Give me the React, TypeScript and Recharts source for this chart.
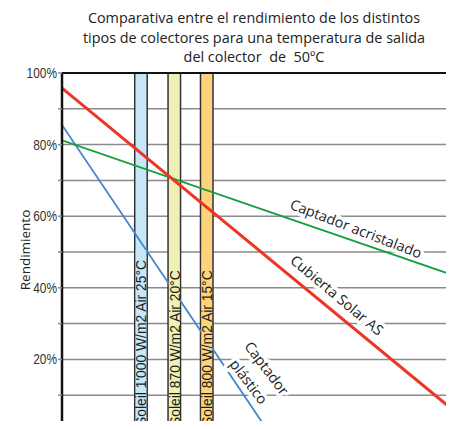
import React from 'react';
import {
  ComposedChart,
  Line,
  XAxis,
  YAxis,
  CartesianGrid,
  ReferenceArea,
  ReferenceLine,
  ReferenceDot,
} from 'recharts';

// x = (T salida - T aire) / irradiancia
const xDomain = [0.0025, 0.1125];
const yTicks = [0, 10, 20, 30, 40, 50, 60, 70, 80, 90, 100];

const cubiertaSolar = [
  { x: 0.0025, y: 95.8 },
  { x: 0.1125, y: 7 },
];
const captadorAcristalado = [
  { x: 0.0025, y: 81.2 },
  { x: 0.1125, y: 44 },
];
const captadorPlastico = [
  { x: 0.0025, y: 85.5 },
  { x: 0.0612, y: 0 },
];

const bands = [
  { x: 0.025, label: "Soleil 1'000 W/m2 Air 25°C", fill: '#c6e7f8' },
  { x: 0.0345, label: 'Soleil 870 W/m2 Air 20°C', fill: '#eef0b4' },
  { x: 0.04375, label: 'Soleil 800 W/m2 Air 15°C', fill: '#fdd37c' },
];
const bandHalf = 0.00178;

const curveLabels = [
  { x: 0.0863, y: 56.6, text: 'Captador acristalado', rot: 21 },
  { x: 0.0809, y: 38, text: 'Cubierta Solar AS', rot: 40 },
  { x: 0.0609, y: 17.6, text: 'Captador', rot: 53 },
  { x: 0.0558, y: 13.8, text: 'plástico', rot: 53 },
];

const font = '"Open Sans", "Noto Sans", sans-serif';
const narrow = '"Liberation Sans", Arial, sans-serif';

const BandLabel = (props: any) => {
  const { viewBox, text, bg } = props;
  const cx = viewBox.x + (viewBox.width || 0) / 2;
  const bottom = 426;
  return (
    <g>
      <rect x={cx - 5.2} y={250} width={10.4} height={190} fill={bg} />
      <text
        x={0}
        y={0}
        transform={`translate(${cx} ${bottom}) rotate(-90) scale(0.9 1)`}
        textAnchor="start"
        dominantBaseline="central"
        fontFamily={narrow}
        fontSize={15.4}
        fill="#1a1a1a"
      >
        {text}
      </text>
    </g>
  );
};

const CurveLabel = (props: any) => {
  const { viewBox, text, rot } = props;
  const cx = viewBox.x + (viewBox.width || 0) / 2;
  const cy = viewBox.y + (viewBox.height || 0) / 2;
  return (
    <text
      x={cx}
      y={cy}
      transform={`rotate(${rot} ${cx} ${cy})`}
      textAnchor="middle"
      dominantBaseline="central"
      fontFamily={font}
      fontSize={14.4}
      fill="#222"
      stroke="#fff"
      strokeWidth={7}
      paintOrder="stroke"
      strokeLinejoin="round"
    >
      {text}
    </text>
  );
};

const YLabel = (props: any) => {
  const { viewBox } = props;
  const x = viewBox.x + 13;
  const y = 250;
  return (
    <text
      x={x}
      y={y}
      transform={`rotate(-90 ${x} ${y})`}
      textAnchor="middle"
      dominantBaseline="central"
      fontFamily={font}
      fontSize={13.5}
      fill="#222"
    >
      Rendimiento
    </text>
  );
};

const YTick = (props: any) => {
  const { x, y, payload } = props;
  if (payload.value % 20 !== 0) return null;
  return (
    <text
      transform={`translate(${x} ${y}) scale(0.82 1)`}
      textAnchor="end"
      dominantBaseline="central"
      fontFamily={narrow}
      fontSize={14.5}
      fill="#333"
    >
      {`${payload.value}%`}
    </text>
  );
};

export default function App() {
  return (
    <div style={{ position: 'relative', width: 454, height: 429, overflow: 'hidden', margin: -8, background: '#fff' }}>
      <div
        style={{
          position: 'absolute',
          left: 54,
          width: 400,
          top: 8,
          textAlign: 'center',
          fontFamily: font,
          fontSize: 14.4,
          lineHeight: '19.5px',
          color: '#222',
          whiteSpace: 'nowrap',
        }}
      >
        Comparativa entre el rendimiento de los distintos
        <br />
        tipos de colectores para una temperatura de salida
        <br />
        del colector&nbsp; de&nbsp; 50ºC
      </div>
      <ComposedChart
        width={454}
        height={480}
        margin={{ top: 73, right: 6, bottom: 49, left: 12 }}
        style={{ position: 'absolute', left: 0, top: 0 }}
      >
        <CartesianGrid vertical={false} stroke="#8a8a8a" strokeWidth={1.5} />
        <XAxis type="number" dataKey="x" domain={xDomain} hide allowDataOverflow />
        <YAxis
          type="number"
          domain={[0, 100]}
          ticks={yTicks}
          width={50}
          axisLine={{ stroke: '#111', strokeWidth: 2.5 }}
          tickLine={{ stroke: '#8a8a8a', strokeWidth: 1.5 }}
          tickSize={4}
          tickMargin={1}
          tick={<YTick />}
          label={<YLabel />}
        />
        {bands.map((b) => (
          <ReferenceArea
            key={b.label}
            x1={b.x - bandHalf}
            x2={b.x + bandHalf}
            y1={0}
            y2={100}
            fill={b.fill}
            fillOpacity={1}
            stroke="#333"
            strokeWidth={1.5}
          />
        ))}
        <ReferenceLine y={100} stroke="#111" strokeWidth={2} />
        <ReferenceLine x={xDomain[1]} stroke="#111" strokeWidth={2} />
        <Line
          data={captadorPlastico}
          dataKey="y"
          stroke="#3f86cc"
          strokeWidth={1.8}
          dot={false}
          isAnimationActive={false}
        />
        <Line
          data={captadorAcristalado}
          dataKey="y"
          stroke="#13a03c"
          strokeWidth={1.8}
          dot={false}
          isAnimationActive={false}
        />
        <Line
          data={cubiertaSolar}
          dataKey="y"
          stroke="#ee3424"
          strokeWidth={3}
          dot={false}
          isAnimationActive={false}
        />
        {bands.map((b) => (
          <ReferenceDot
            key={`lbl-${b.label}`}
            x={b.x}
            y={0}
            r={0}
            fill="none"
            stroke="none"
            label={<BandLabel text={b.label} bg={b.fill} />}
          />
        ))}
        {curveLabels.map((c) => (
          <ReferenceDot
            key={c.text}
            x={c.x}
            y={c.y}
            r={0}
            fill="none"
            stroke="none"
            label={<CurveLabel text={c.text} rot={c.rot} />}
          />
        ))}
      </ComposedChart>
    </div>
  );
}
